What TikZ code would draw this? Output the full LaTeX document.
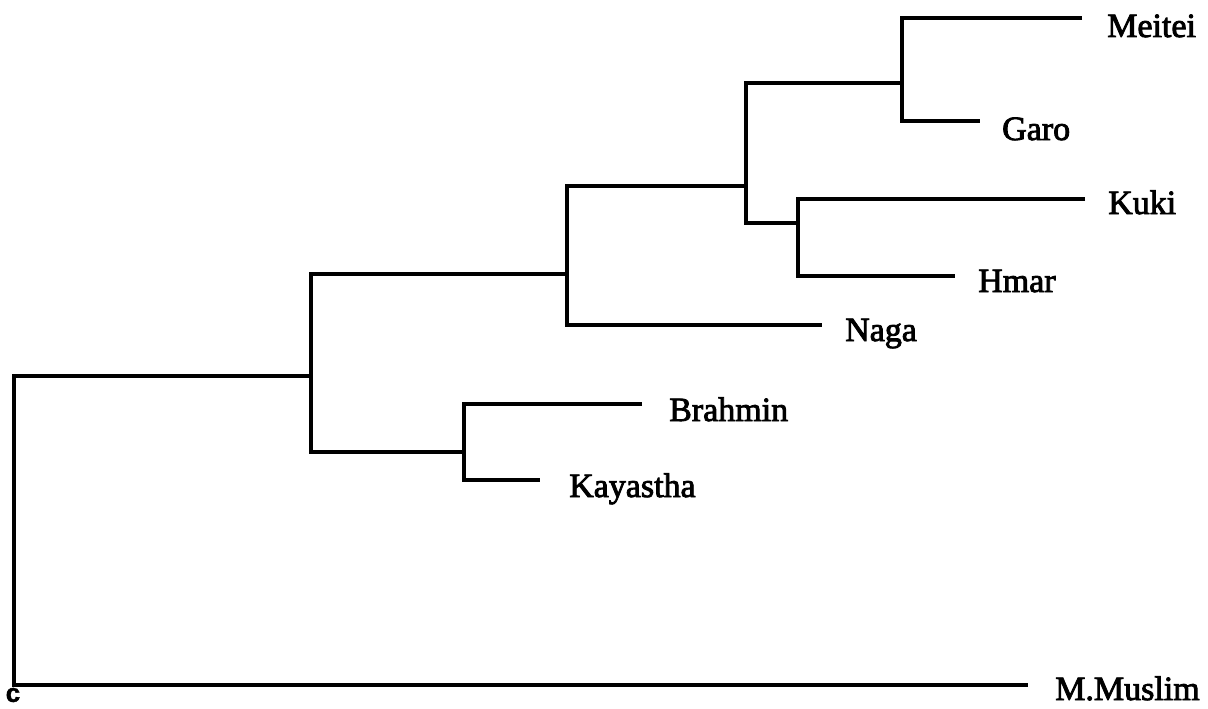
\documentclass[tikz,border=0pt]{standalone}
\usepackage{fontspec}
\setmainfont{Liberation Serif}
\newfontfamily\labelfont{Liberation Serif}[FakeBold=2.5]
\newfontfamily\tagfont{Liberation Sans Bold}[FakeBold=1.5]
\begin{document}
\begin{tikzpicture}[x=1pt,y=-1pt,
  branch/.style={line width=3.2pt,line join=miter},
  lab/.style={anchor=base west,inner sep=0pt,font=\fontsize{34}{40}\labelfont},
]
\fill[white] (0,0) rectangle (1208,709);
\useasboundingbox (0,0) rectangle (1208,709);

% internal nodes (x of the split, y where the parent branch joins)
\coordinate (R) at (14,376);
\coordinate (A) at (311,376);
\coordinate (B) at (567,274);
\coordinate (C) at (746,186);
\coordinate (D) at (902,83);
\coordinate (E) at (798,223);
\coordinate (F) at (464,452);

% tips
\coordinate (tMeitei)   at (1082,18);
\coordinate (tGaro)     at (980,121);
\coordinate (tKuki)     at (1085,199);
\coordinate (tHmar)     at (955,276);
\coordinate (tNaga)     at (822,325);
\coordinate (tBrahmin)  at (642,404);
\coordinate (tKayastha) at (540,480);
\coordinate (tMuslim)   at (1028,685);

% labels
\node[lab] (Meitei)   at ([shift={(25,19)}]tMeitei)   {Meitei};
\node[lab] (Garo)     at ([shift={(22,19)}]tGaro)     {Garo};
\node[lab] (Kuki)     at ([shift={(23,15)}]tKuki)     {Kuki};
\node[lab] (Hmar)     at ([shift={(23,16)}]tHmar)     {Hmar};
\node[lab] (Naga)     at ([shift={(23,16)}]tNaga)     {Naga};
\node[lab] (Brahmin)  at ([shift={(27,17)}]tBrahmin)  {Brahmin};
\node[lab] (Kayastha) at ([shift={(29,17)}]tKayastha) {Kayastha};
\node[lab] (Muslim)   at ([shift={(27,15)}]tMuslim)   {M.Muslim};

% branches
\draw[branch] (tMeitei) -| (D) |- (tGaro);
\draw[branch] (tKuki) -| (E) |- (tHmar);
\draw[branch] (D) -| (C) |- (E);
\draw[branch] (C) -| (B) |- (tNaga);
\draw[branch] (tBrahmin) -| (F) |- (tKayastha);
\draw[branch] (B) -| (A) |- (F);
\draw[branch] (A) -| (R) |- (tMuslim);

% panel tag
\node[font=\fontsize{26}{28}\tagfont,inner sep=0pt] (tag) at (13,695) {c};
\end{tikzpicture}
\end{document}
